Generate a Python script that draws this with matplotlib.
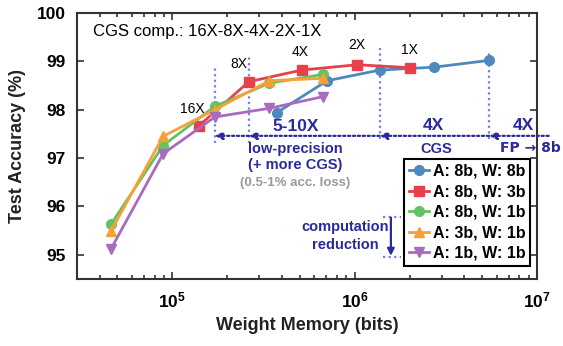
import matplotlib.pyplot as plt
import matplotlib.ticker as mticker

plt.rcParams["font.family"] = ["Liberation Sans", "DejaVu Sans"]
plt.rcParams["mathtext.fontset"] = "custom"
plt.rcParams["mathtext.rm"] = "Liberation Sans"
plt.rcParams["mathtext.bf"] = "Liberation Sans:bold"

# weight memory (bits) and test accuracy (%)
mem_8b8b = [3.74e5, 7.06e5, 1.37e6, 2.72e6, 5.46e6]
acc_8b8b = [97.94, 98.60, 98.82, 98.88, 99.02]

mem_8b3b = [1.40e5, 2.63e5, 5.12e5, 1.03e6, 2.0e6]
acc_8b3b = [97.67, 98.58, 98.82, 98.93, 98.87]
cgs_labels = ["16X", "8X", "4X", "2X", "1X"]

mem_1b = [4.62e4, 8.9e4, 1.71e5, 3.41e5, 6.7e5]
acc_8b1b = [95.64, 97.26, 98.07, 98.55, 98.73]
acc_3b1b = [95.50, 97.45, 98.00, 98.60, 98.65]
acc_1b1b = [95.13, 97.09, 97.85, 98.03, 98.27]

NAVY = "#2a2a9c"
LIGHT = "#7b7be8"

fig = plt.figure(figsize=(5.63, 3.46), dpi=100)
ax = fig.add_axes([0.1368, 0.1936, 0.8170, 0.7688])

kw = dict(linewidth=2, markersize=7, clip_on=False, zorder=5)
ax.plot(mem_8b8b, acc_8b8b, "-o", color="#4e89bd", label="A: 8b, W: 8b", **kw)
ax.plot(mem_8b3b, acc_8b3b, "-s", color="#e8404a", label="A: 8b, W: 3b", **kw)
ax.plot(mem_1b, acc_8b1b, "-o", color="#66c166", label="A: 8b, W: 1b", **kw)
ax.plot(mem_1b, acc_3b1b, "-^", color="#f7a035", label="A: 3b, W: 1b", **kw)
ax.plot(mem_1b, acc_1b1b, "-v", color="#a86bc0", label="A: 1b, W: 1b", **kw)

# CGS compression labels on the red curve
offsets = [(-5, 7), (-7, 8), (-1, 8), (0, 9), (0, 8)]
for x, y, lab, off in zip(mem_8b3b, acc_8b3b, cgs_labels, offsets):
    ax.annotate(lab, (x, y), xytext=off, textcoords="offset points",
                ha="center", va="bottom", fontsize=10)

# vertical dotted markers
vlines = [(mem_1b[2], 97.32, 98.87), (mem_8b3b[1], 97.32, 99.09),
          (mem_8b8b[2], 97.40, 99.28), (mem_8b8b[4], 97.40, 99.18)]
for x, y0, y1 in vlines:
    ax.plot([x, x], [y0, y1], linestyle=(0, (1, 1.5)), color=LIGHT,
            linewidth=1.6, zorder=3)

# horizontal dotted arrows
y_arr = 97.46
spans = [(1.16e7, mem_8b8b[4]), (mem_8b8b[4], mem_8b8b[2]),
         (mem_8b8b[2], mem_8b3b[1]), (mem_8b3b[1], mem_1b[2])]
for x0, x1 in spans:
    ax.annotate("", xy=(x1, y_arr), xytext=(x0, y_arr),
                arrowprops=dict(arrowstyle="-|>", linestyle=(0, (1, 1.2)),
                                color=NAVY, lw=1.6, mutation_scale=11,
                                shrinkA=0, shrinkB=0),
                annotation_clip=False)

ax.text(4.72e5, 97.65, "5-10X", color=NAVY, fontsize=12.5, fontweight="bold",
        ha="center", va="center")
ax.text(4.72e5, 97.18, "low-precision", color=NAVY, fontsize=10.5,
        fontweight="bold", ha="center", va="center")
ax.text(4.72e5, 96.85, "(+ more CGS)", color=NAVY, fontsize=10.5,
        fontweight="bold", ha="center", va="center")
ax.text(4.72e5, 96.49, "(0.5-1% acc. loss)", color="#999999", fontsize=9.5,
        fontweight="bold", ha="center", va="center")
ax.text(2.70e6, 97.67, "4X", color=NAVY, fontsize=12.5, fontweight="bold",
        ha="center", va="center")
ax.text(2.80e6, 97.18, "CGS", color=NAVY, fontsize=10.5, fontweight="bold",
        ha="center", va="center")
ax.text(8.47e6, 97.67, "4X", color=NAVY, fontsize=12.5, fontweight="bold",
        ha="center", va="center")
ax.text(9.2e6, 97.20, "FP \u2192 8b", color=NAVY, family=["DejaVu Sans"],
        fontsize=10, fontweight="bold", ha="center", va="center",
        clip_on=False)

# computation reduction
ax.text(8.9e5, 95.57, "computation", color=NAVY, fontsize=10.5,
        fontweight="bold", ha="center", va="center")
ax.text(8.9e5, 95.20, "reduction", color=NAVY, fontsize=10.5,
        fontweight="bold", ha="center", va="center")
for yy in (95.79, 94.95):
    ax.plot([1.43e6, 1.79e6], [yy, yy], linestyle=(0, (1, 1.5)),
            color=LIGHT, linewidth=1.6)
ax.annotate("", xy=(1.58e6, 94.98), xytext=(1.58e6, 95.77),
            arrowprops=dict(arrowstyle="-|>", color=NAVY, lw=1.6,
                            mutation_scale=10, shrinkA=0, shrinkB=0))

ax.text(0.035, 0.932, "CGS comp.: 16X-8X-4X-2X-1X", transform=ax.transAxes,
        fontsize=12, ha="left", va="center")

ax.set_xscale("log")
ax.set_xlim(3e4, 1e7)
ax.set_ylim(94.5, 100)
ax.set_yticks([95, 96, 97, 98, 99, 100])
ax.set_xticks([1e5, 1e6, 1e7])
ax.set_xticklabels([r"$\mathbf{10^{5}}$", r"$\mathbf{10^{6}}$", r"$\mathbf{10^{7}}$"])
ax.xaxis.set_minor_locator(mticker.LogLocator(base=10, subs=range(2, 10)))
ax.xaxis.set_minor_formatter(mticker.NullFormatter())
ax.tick_params(which="both", direction="in", top=True, right=True,
               labelsize=12.5, width=1.2, color="#333333")
ax.tick_params(which="major", length=5)
ax.tick_params(which="minor", length=3)
ax.tick_params(axis="y", pad=8)
ax.tick_params(axis="x", pad=8)
for lab in ax.get_yticklabels():
    lab.set_fontweight("bold")
for sp in ax.spines.values():
    sp.set_linewidth(1.5)
    sp.set_color("#333333")

ax.set_xlabel("Weight Memory (bits)", fontsize=13, fontweight="bold",
              color="#222222", labelpad=5)
ax.set_ylabel("Test Accuracy (%)", fontsize=13, fontweight="bold",
              color="#222222", labelpad=8)

leg = ax.legend(loc="lower right", bbox_to_anchor=(0.985, 0.05),
                handlelength=1.3, handletextpad=0.2,
                labelspacing=0.35, borderpad=0.3, borderaxespad=0,
                fancybox=False, edgecolor="black", framealpha=1,
                prop={"weight": "bold", "size": 11.5})
leg.get_frame().set_linewidth(1.5)

fig.savefig("out.png", dpi=100)
